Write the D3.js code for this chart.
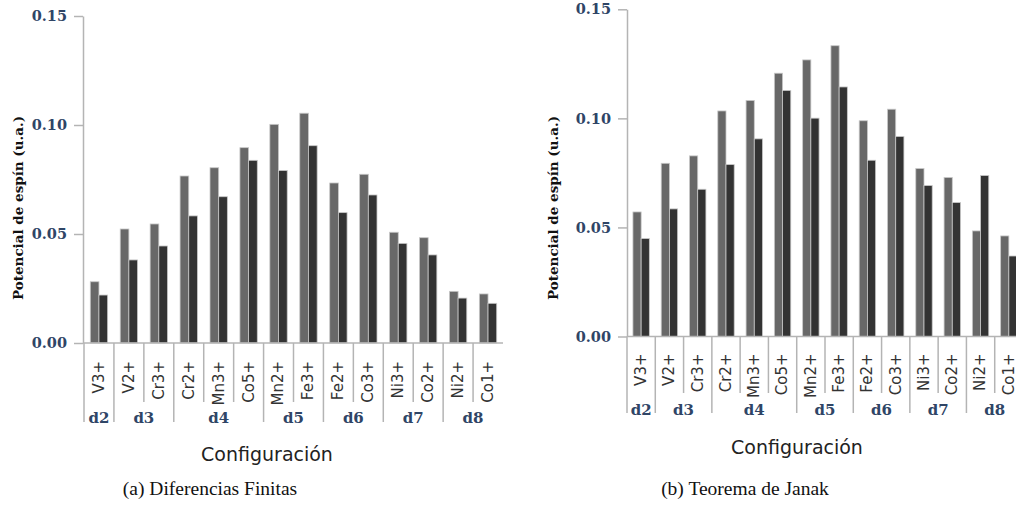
<!DOCTYPE html>
<html>
<head>
<meta charset="utf-8">
<script src="https://cdn.jsdelivr.net/npm/d3@7"></script>
<style>
  html, body { margin: 0; padding: 0; background: #fff; }
  svg { display: block; }
</style>
</head>
<body>
<svg id="chart" width="1016" height="531"></svg>
<script>
// ---------------- DATA ----------------
const categories = ["V3+", "V2+", "Cr3+", "Cr2+", "Mn3+", "Co5+", "Mn2+", "Fe3+", "Fe2+", "Co3+", "Ni3+", "Co2+", "Ni2+", "Co1+"];
const groupNames = ["d2", "d3", "d4", "d5", "d6", "d7", "d8"];
const groupSizes = [1, 2, 3, 2, 2, 2, 2];
const seriesKeys = ["a", "b"];

// (a) Diferencias Finitas
const finitasA = [0.0281, 0.0523, 0.0546, 0.0766, 0.0804, 0.0896, 0.1003, 0.1054, 0.0734, 0.0774, 0.0508, 0.0483, 0.0237, 0.0225];
const finitasB = [0.0220, 0.0381, 0.0445, 0.0583, 0.0671, 0.0838, 0.0791, 0.0905, 0.0598, 0.0679, 0.0457, 0.0404, 0.0206, 0.0182];

// (b) Teorema de Janak
const janakA = [0.0571, 0.0794, 0.0828, 0.1034, 0.1082, 0.1207, 0.1268, 0.1333, 0.0989, 0.1042, 0.0770, 0.0729, 0.0484, 0.0461];
const janakB = [0.0449, 0.0585, 0.0675, 0.0788, 0.0906, 0.1128, 0.1001, 0.1144, 0.0808, 0.0917, 0.0692, 0.0614, 0.0738, 0.0369];

const yTicks = [0.00, 0.05, 0.10, 0.15];
const yTitle = "Potencial de espín (u.a.)";
const xTitle = "Configuración";
const captions = ["(a) Diferencias Finitas", "(b) Teorema de Janak"];

// ---------------- STYLE ----------------
const colA = "#686868", colB = "#333333";
const axisCol = "#b4b4b4";
const tickCol = "#2f4566";
const serif = "'DejaVu Serif', serif";
const sans = "'DejaVu Sans', sans-serif";

const svg = d3.select("#chart");

function drawChart(cfg, valsA, valsB, caption) {
  const g = svg.append("g");
  const y = d3.scaleLinear().domain([0, 0.15]).range([cfg.yZero, cfg.yTop]);
  const x0 = d3.scaleBand().domain(categories).range([cfg.xStart, cfg.xEnd])
    .paddingInner(0.42).paddingOuter(0.21);
  const x1 = d3.scaleBand().domain(seriesKeys).range([0, x0.bandwidth()]);
  const step = x0.step();
  const cellLeft = c => x0(c) - 0.21 * step;

  // bars
  const rows = categories.map((c, i) => ({ c, a: valsA[i], b: valsB[i] }));
  const grp = g.append("g").selectAll("g").data(rows).join("g")
    .attr("transform", d => `translate(${x0(d.c)},0)`);
  grp.selectAll("rect").data(d => seriesKeys.map(k => ({ k, v: d[k] }))).join("rect")
    .attr("x", d => x1(d.k))
    .attr("y", d => y(d.v))
    .attr("width", x1.bandwidth())
    .attr("height", d => y(0) - y(d.v))
    .attr("fill", d => d.k === "a" ? colA : colB)
    .attr("stroke", "#c8c8c8")
    .attr("stroke-width", 0.8);

  // y axis
  const ya = g.append("g").attr("transform", `translate(${cfg.axisX},0)`)
    .call(d3.axisLeft(y).tickValues(yTicks).tickFormat(d3.format(".2f"))
      .tickSize(9).tickSizeOuter(0).tickPadding(7));
  ya.select(".domain").attr("stroke", axisCol).attr("stroke-width", 1.5);
  ya.selectAll(".tick line").attr("stroke", axisCol).attr("stroke-width", 1.5);
  ya.selectAll(".tick text").attr("fill", tickCol)
    .style("font-family", serif).style("font-weight", "bold").style("font-size", "14.5px");

  // x axis base line
  g.append("line")
    .attr("x1", cfg.axisX).attr("x2", x0.range()[1])
    .attr("y1", y(0)).attr("y2", y(0))
    .attr("stroke", axisCol).attr("stroke-width", 1.5);

  // group boundaries
  const groupStart = new Set();
  let acc = 0;
  const groupSpans = groupNames.map((name, gi) => {
    const first = categories[acc];
    const last = categories[acc + groupSizes[gi] - 1];
    groupStart.add(acc);
    acc += groupSizes[gi];
    return { name, x: (cellLeft(first) + cellLeft(last) + step) / 2 };
  });

  g.append("g").selectAll("line").data(categories).join("line")
    .attr("x1", c => cellLeft(c)).attr("x2", c => cellLeft(c))
    .attr("y1", y(0))
    .attr("y2", (c, i) => y(0) + (groupStart.has(i) ? cfg.longLen : cfg.shortLen))
    .attr("stroke", axisCol).attr("stroke-width", 1.5);

  // category labels
  g.append("g").selectAll("text").data(categories).join("text")
    .attr("transform", c => `translate(${x0(c) + x0.bandwidth() / 2 - 0.5},${cfg.catLabelY}) rotate(-90)`)
    .attr("text-anchor", "end").attr("dy", "0.36em")
    .attr("fill", "#333")
    .style("font-family", sans).style("font-size", "15px")
    .text(c => c);

  // group labels
  g.append("g").selectAll("text").data(groupSpans).join("text")
    .attr("x", d => d.x).attr("y", cfg.groupLabelY)
    .attr("text-anchor", "middle").attr("fill", tickCol)
    .style("font-family", serif).style("font-weight", "bold").style("font-size", "15px")
    .text(d => d.name);

  // axis titles
  g.append("text")
    .attr("x", cfg.xTitleX).attr("y", cfg.xTitleY)
    .attr("text-anchor", "middle").attr("fill", "#222")
    .style("font-family", sans).style("font-size", "19px")
    .text(xTitle);

  g.append("text")
    .attr("transform", `translate(${cfg.yTitleX},${cfg.yTitleY}) rotate(-90)`)
    .attr("text-anchor", "middle").attr("dy", "0.35em").attr("fill", "#111")
    .style("font-family", serif).style("font-weight", "bold").style("font-size", "13.5px")
    .text(yTitle);

  // caption
  svg.append("text")
    .attr("x", cfg.capX).attr("y", 495)
    .attr("text-anchor", "middle").attr("fill", "#111")
    .style("font-family", "'Liberation Serif', serif").style("font-size", "19.5px")
    .text(caption);
}

drawChart({
  axisX: 83, yTop: 16, yZero: 343, xStart: 84, xEnd: 503,
  shortLen: 59, longLen: 79, catLabelY: 361, groupLabelY: 423,
  xTitleX: 267, xTitleY: 461, yTitleX: 18, yTitleY: 208, capX: 210
}, finitasA, finitasB, captions[0]);

drawChart({
  axisX: 627, yTop: 9.3, yZero: 336.5, xStart: 627, xEnd: 1023,
  shortLen: 56.5, longLen: 76.5, catLabelY: 353.5, groupLabelY: 415,
  xTitleX: 797, xTitleY: 454, yTitleX: 553.5, yTitleY: 208, capX: 745
}, janakA, janakB, captions[1]);
</script>
</body>
</html>
